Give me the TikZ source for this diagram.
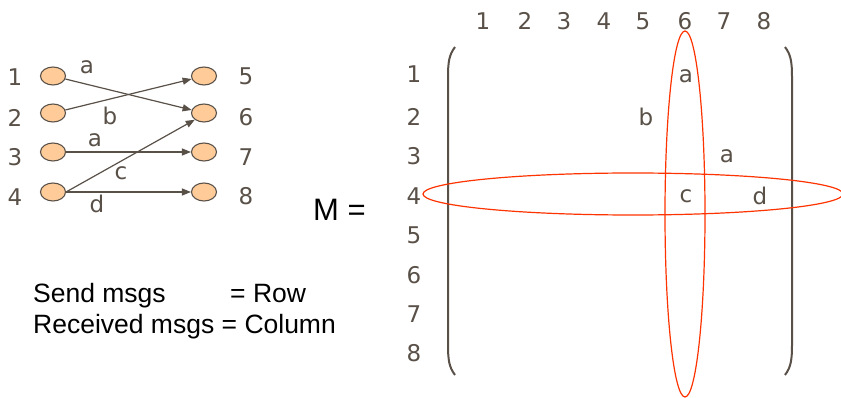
\documentclass[tikz,border=0pt]{standalone}
\usepackage{fontspec}
\setmainfont{DejaVu Sans}
\newfontfamily\arialf{Liberation Sans}
\usetikzlibrary{arrows.meta,shapes.geometric}
\definecolor{ink}{RGB}{89,80,72}
\definecolor{peach}{RGB}{255,204,153}
\definecolor{redl}{RGB}{255,51,0}
\tikzset{
  lab/.style={text=ink,inner sep=0pt,font=\fontsize{23}{23}\selectfont},
  elab/.style={text=ink,inner sep=0pt,font=\fontsize{23}{23}\selectfont},
  oval/.style={ellipse,draw=ink,fill=peach,line width=1.1pt,minimum width=25pt,minimum height=18pt,inner sep=0pt},
  edge/.style={draw=ink,line width=1.2pt,-{Triangle[length=9pt,width=7pt]}},
  brk/.style={draw=ink,line width=2pt},
  ring/.style={draw=redl,line width=1.2pt},
  blk/.style={inner sep=0pt,anchor=base west,font=\arialf\fontsize{26.5}{26.5}\selectfont}
}
\begin{document}
\begin{tikzpicture}[x=1pt,y=-1pt]
\useasboundingbox (0,0) rectangle (841,398);
% left graph
\node[oval] (o1) at (53,76) {};
\node[oval] (o2) at (53,113) {};
\node[oval] (o3) at (53,152) {};
\node[oval] (o4) at (53,192) {};
\node[oval] (o5) at (204,76) {};
\node[oval] (o6) at (204,113) {};
\node[oval] (o7) at (204,152) {};
\node[oval] (o8) at (204,192) {};
\node[lab] (l1) at (15,77) {1};
\node[lab] (l2) at (15,118) {2};
\node[lab] (l3) at (15,157) {3};
\node[lab] (l4) at (15,197) {4};
\node[lab] (l5) at (246,76) {5};
\node[lab] (l6) at (246,117) {6};
\node[lab] (l7) at (246,157) {7};
\node[lab] (l8) at (246,196) {8};
\draw[edge] (o1) -- (o6);
\draw[edge] (o2) -- (o5);
\draw[edge] (o3) -- (o7);
\draw[edge] (o4.east) -- (o6.south west);
\draw[edge] (o4) -- (o8);
\node[elab] (ea) at (87,67) {a};
\node[elab] (eb) at (110,116) {b};
\node[elab] (ea2) at (95,140) {a};
\node[elab] (ec) at (121,173) {c};
\node[elab] (ed) at (97,204) {d};
% legend
\node[blk] (s1) at (33,302) {Send msgs};
\node[blk] (s2) at (230,302) {= Row};
\node[blk] (r1) at (33,333) {Received msgs = Column};
\node[inner sep=0pt,anchor=base west,font=\arialf\fontsize{31}{31}\selectfont] (M) at (313,221) {M =};
% column headers
\foreach \i/\x in {1/483,2/525,3/564,4/604,5/643,6/685,7/724,8/764}
  \node[lab] (c\i) at (\x,21) {\i};
\foreach \i/\y in {1/74,2/117,3/156,4/196,5/235,6/275,7/314,8/353}
  \node[lab] (r\i) at (414,\y) {\i};
% brackets
\draw[brk] (455,47) .. controls (449,55) and (448,62) .. (448,78) -- (448,344) .. controls (448,360) and (449,367) .. (455,375);
\draw[brk] (785,47) .. controls (791,55) and (792,62) .. (792,78) -- (792,344) .. controls (792,360) and (791,367) .. (785,375);
% entries
\node[elab] (m1) at (686,76) {a};
\node[elab] (m2) at (646,117) {b};
\node[elab] (m3) at (727,156) {a};
\node[elab] (m4) at (686,196) {c};
\node[elab] (m5) at (760,196) {d};
% rings
\draw[ring] (685,214) ellipse [x radius=20, y radius=183];
\draw[ring] (633,194) ellipse [x radius=210, y radius=21];
\end{tikzpicture}
\end{document}
